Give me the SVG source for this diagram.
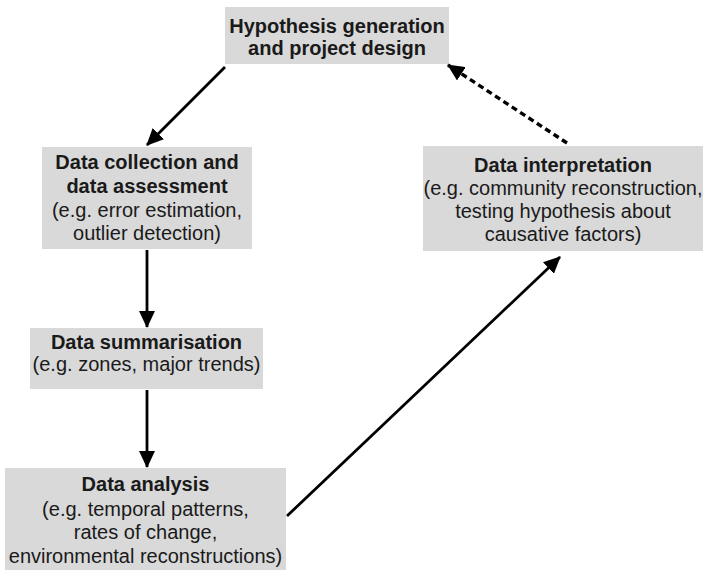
<svg xmlns="http://www.w3.org/2000/svg" width="703" height="570" viewBox="0 0 703 570">
<style>
.box{fill:#d9d9d9;}
text{font-family:"Liberation Sans",Arial,sans-serif;font-size:20px;fill:#1a1a1a;text-anchor:middle;}
.b{font-weight:bold;}
.ln{stroke:#000;stroke-width:2.8;fill:none;}
.dash{stroke-dasharray:6,4;stroke-width:3.4;}
</style>
<defs>
<marker id="ah" markerUnits="userSpaceOnUse" markerWidth="18" markerHeight="16" refX="16" refY="8" orient="auto">
<path d="M0,0 L17,8 L0,16 Z" fill="#000"/>
</marker>
</defs>
<rect width="703" height="570" fill="#fff"/>
<g id="hypothesis">
<rect class="box" x="225" y="7" width="224" height="57"/>
<text class="b" x="337" y="33">Hypothesis generation</text>
<text class="b" x="337" y="55">and project design</text>
</g>
<g id="collection">
<rect class="box" x="42" y="147" width="210" height="102"/>
<text class="b" x="147" y="169">Data collection and</text>
<text class="b" x="147" y="193">data assessment</text>
<text x="147" y="217">(e.g. error estimation,</text>
<text x="147" y="240">outlier detection)</text>
</g>
<g id="interpretation">
<rect class="box" x="423" y="146" width="280" height="105"/>
<text class="b" x="563" y="172">Data interpretation</text>
<text x="563" y="195">(e.g. community reconstruction,</text>
<text x="563" y="218">testing hypothesis about</text>
<text x="563" y="241">causative factors)</text>
</g>
<g id="summarisation">
<rect class="box" x="30" y="328" width="233" height="61"/>
<text class="b" x="146.5" y="349">Data summarisation</text>
<text x="146.5" y="371">(e.g. zones, major trends)</text>
</g>
<g id="analysis">
<rect class="box" x="5" y="468" width="281" height="102"/>
<text class="b" x="145.5" y="491">Data analysis</text>
<text x="145.5" y="516">(e.g. temporal patterns,</text>
<text x="145.5" y="539">rates of change,</text>
<text x="145.5" y="563">environmental reconstructions)</text>
</g>
<g id="connectors">
<line class="ln" x1="225" y1="67" x2="147" y2="145" marker-end="url(#ah)"/>
<line class="ln" x1="147" y1="250" x2="147" y2="327" marker-end="url(#ah)"/>
<line class="ln" x1="147" y1="390" x2="147" y2="467" marker-end="url(#ah)"/>
<line class="ln" x1="287" y1="516" x2="560" y2="257" marker-end="url(#ah)"/>
<line class="ln dash" x1="567" y1="143" x2="448" y2="65" marker-end="url(#ah)"/>
</g>
</svg>
